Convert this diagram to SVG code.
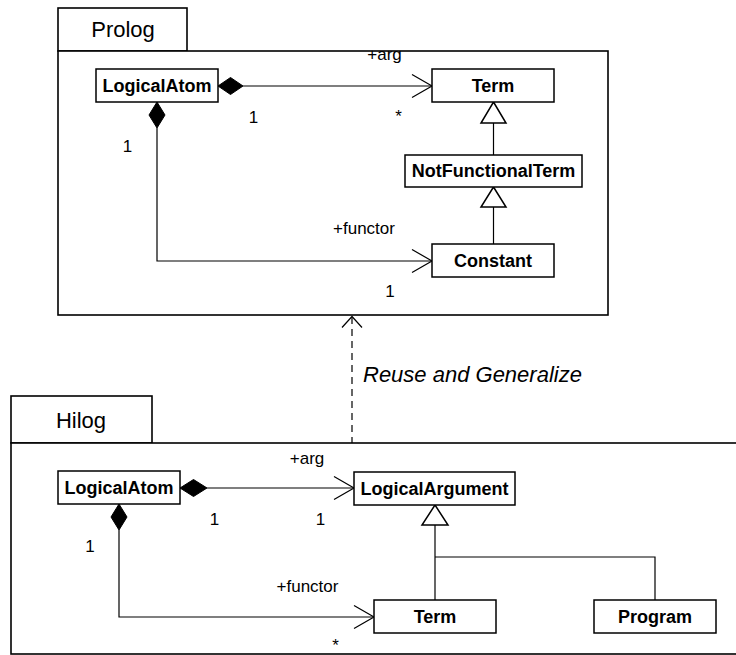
<svg xmlns="http://www.w3.org/2000/svg" width="736" height="655" viewBox="0 0 736 655">
<defs>
<style>
.frame{fill:#fff;stroke:#000;stroke-width:1.6}
.box{fill:#fff;stroke:#000;stroke-width:1.5}
.cls{font-family:"Liberation Sans",Arial,sans-serif;font-weight:bold;font-size:18px;text-anchor:middle;fill:#000}
.pkg{font-family:"Liberation Sans",Arial,sans-serif;font-size:22px;text-anchor:middle;fill:#000}
.lbl{font-family:"Liberation Sans",Arial,sans-serif;font-size:17px;fill:#000}
.ln{fill:none;stroke:#000;stroke-width:1.2}
.dia{fill:#000;stroke:#000;stroke-width:1}
.tri{fill:#fff;stroke:#000;stroke-width:1.5}
</style>
</defs>
<rect width="736" height="655" fill="#fff"/>
<g id="pkg-prolog">
<rect class="frame" x="58" y="8" width="129" height="43"/>
<rect class="frame" x="58" y="51" width="550" height="264"/>
<text class="pkg" x="123" y="37">Prolog</text>
</g>
<g id="pkg-hilog">
<rect class="frame" x="11" y="396" width="141" height="47"/>
<rect class="frame" x="11" y="443" width="740" height="211"/>
<text class="pkg" x="81" y="428">Hilog</text>
</g>
<g id="connectors">
<!-- Prolog: LogicalAtom -> Term (+arg) -->
<line class="ln" x1="243" y1="86" x2="432" y2="86"/>
<polyline class="ln" points="412,74.5 432,86 412,97.5"/>
<polygon class="dia" points="218,86 230.5,77.5 243,86 230.5,94.5"/>
<!-- Prolog: LogicalAtom -> Constant (+functor) -->
<polyline class="ln" points="157,128 157,261 432,261"/>
<polyline class="ln" points="412,249.5 432,261 412,272.5"/>
<polygon class="dia" points="157,102 165,115 157,128 149,115"/>
<!-- Prolog generalizations -->
<line class="ln" x1="493.5" y1="123" x2="493.5" y2="155"/>
<polygon class="tri" points="493.5,102 506,123 481,123"/>
<line class="ln" x1="493.5" y1="207" x2="493.5" y2="244"/>
<polygon class="tri" points="493.5,187 506,207 481,207"/>
<!-- Dependency Hilog -> Prolog -->
<line class="ln" x1="352" y1="317" x2="352" y2="443" stroke-dasharray="7,5"/>
<polyline class="ln" points="342,327.5 352,316.5 362,327.5"/>
<!-- Hilog: LogicalAtom -> LogicalArgument (+arg) -->
<line class="ln" x1="207" y1="488" x2="354" y2="488"/>
<polyline class="ln" points="334,476.5 354,488 334,499.5"/>
<polygon class="dia" points="180,488 193.5,479.5 207,488 193.5,496.5"/>
<!-- Hilog: LogicalAtom -> Term (+functor) -->
<polyline class="ln" points="119,530 119,617 374,617"/>
<polyline class="ln" points="354,605.5 374,617 354,628.5"/>
<polygon class="dia" points="119,504 127,517 119,530 111,517"/>
<!-- Hilog generalizations -->
<polyline class="ln" points="435,525 435,600"/>
<polyline class="ln" points="435,557 655,557 655,600"/>
<polygon class="tri" points="435,505 448,525 422,525"/>
</g>
<g id="labels">
<text class="lbl" x="384.5" y="60" text-anchor="middle">+arg</text>
<text class="lbl" x="253.5" y="123" text-anchor="middle">1</text>
<text class="lbl" x="398.5" y="122" text-anchor="middle">*</text>
<text class="lbl" x="127.5" y="152" text-anchor="middle">1</text>
<text class="lbl" x="364" y="234" text-anchor="middle">+functor</text>
<text class="lbl" x="390" y="297" text-anchor="middle">1</text>
<text x="363" y="382" font-family="'Liberation Sans',Arial,sans-serif" font-size="22" font-style="italic">Reuse and Generalize</text>
<text class="lbl" x="307" y="464" text-anchor="middle">+arg</text>
<text class="lbl" x="214.5" y="525" text-anchor="middle">1</text>
<text class="lbl" x="320.5" y="525" text-anchor="middle">1</text>
<text class="lbl" x="90" y="552" text-anchor="middle">1</text>
<text class="lbl" x="307.5" y="592" text-anchor="middle">+functor</text>
<text class="lbl" x="335.5" y="651" text-anchor="middle">*</text>
</g>
<g id="prolog-logicalatom">
<rect class="box" x="96" y="69" width="122" height="33"/>
<text class="cls" x="157" y="92">LogicalAtom</text>
</g>
<g id="prolog-term">
<rect class="box" x="432" y="69" width="122" height="33"/>
<text class="cls" x="493" y="92">Term</text>
</g>
<g id="prolog-notfunctionalterm">
<rect class="box" x="405" y="155" width="177" height="32"/>
<text class="cls" x="493.5" y="177">NotFunctionalTerm</text>
</g>
<g id="prolog-constant">
<rect class="box" x="432" y="244" width="122" height="33"/>
<text class="cls" x="493" y="267">Constant</text>
</g>
<g id="hilog-logicalatom">
<rect class="box" x="58" y="471" width="122" height="33"/>
<text class="cls" x="119" y="494">LogicalAtom</text>
</g>
<g id="hilog-logicalargument">
<rect class="box" x="354" y="472" width="161" height="33"/>
<text class="cls" x="434.5" y="495">LogicalArgument</text>
</g>
<g id="hilog-term">
<rect class="box" x="374" y="600" width="122" height="33"/>
<text class="cls" x="435" y="623">Term</text>
</g>
<g id="hilog-program">
<rect class="box" x="594" y="600" width="122" height="33"/>
<text class="cls" x="655" y="623">Program</text>
</g>
</svg>
